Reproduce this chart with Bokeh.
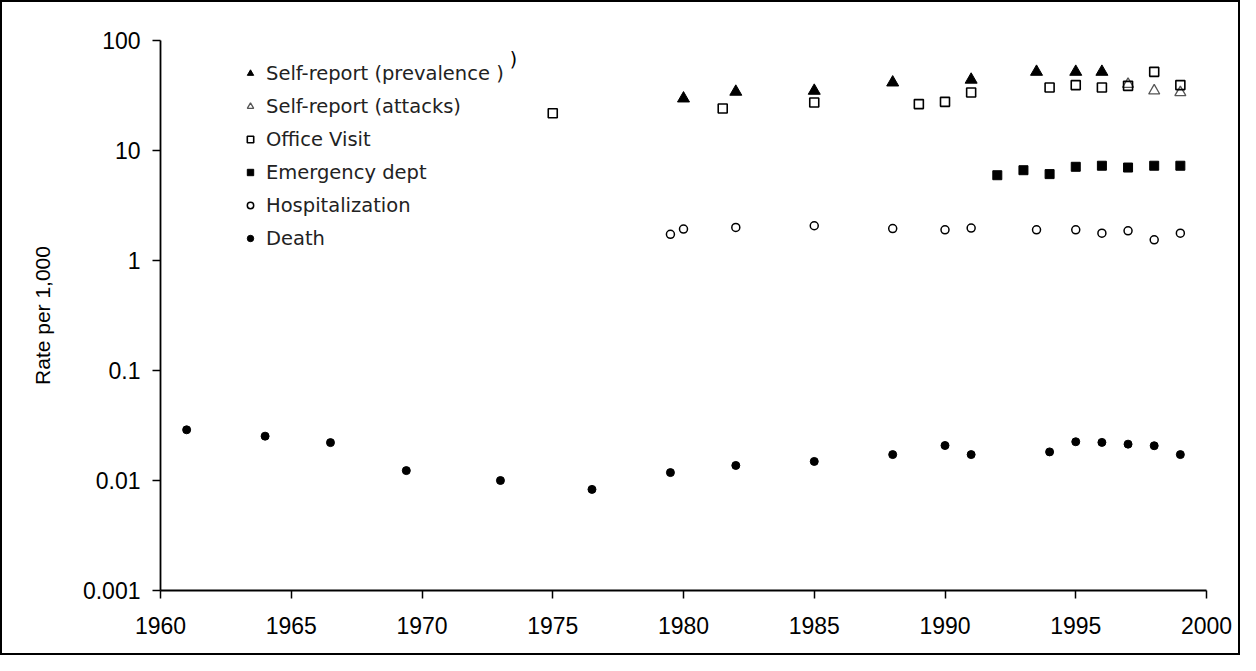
from bokeh.plotting import figure
from bokeh.models import (Legend, LegendItem, FixedTicker, Label, Range1d,
                          CustomJSTickFormatter)
from bokeh.embed import file_html
from bokeh.resources import INLINE

# ---------------- data ----------------
prev_years = [1980, 1982, 1985, 1988, 1991, 1993.5, 1995, 1996]
prev_vals = [29.7, 34.2, 34.9, 41.5, 44.0, 51.9, 51.9, 51.9]

attack_years = [1997, 1998, 1999]
attack_vals = [40.0, 34.9, 33.7]

office_years = [1975, 1981.5, 1985, 1989, 1990, 1991, 1994, 1995, 1996, 1997, 1998, 1999]
office_vals = [21.8, 24.1, 27.3, 26.4, 27.7, 33.7, 37.4, 39.3, 37.4, 38.7, 51.9, 39.3]

ed_years = [1992, 1993, 1994, 1995, 1996, 1997, 1998, 1999]
ed_vals = [5.96, 6.62, 6.1, 7.11, 7.27, 7.0, 7.27, 7.27]

hosp_years = [1979.5, 1980, 1982, 1985, 1988, 1990, 1991, 1993.5, 1995, 1996, 1997, 1998, 1999]
hosp_vals = [1.73, 1.93, 2.0, 2.07, 1.95, 1.90, 1.97, 1.90, 1.90, 1.77, 1.86, 1.54, 1.77]

death_years = [1961, 1964, 1966.5, 1969.4, 1973, 1976.5, 1979.5, 1982, 1985, 1988,
               1990, 1991, 1994, 1995, 1996, 1997, 1998, 1999]
death_vals = [0.0289, 0.0253, 0.0221, 0.0123, 0.0100, 0.0083, 0.0118, 0.0137, 0.0149,
              0.0172, 0.0208, 0.0172, 0.0182, 0.0225, 0.0222, 0.0214, 0.0207, 0.0172]

x_ticks = [1960, 1965, 1970, 1975, 1980, 1985, 1990, 1995, 2000]
y_ticks = [0.001, 0.01, 0.1, 1, 10, 100]
y_tick_labels = ["0.001", "0.01", "0.1", "1", "10", "100"]

legend_labels = ["Self-report (prevalence )", "Self-report (attacks)", "Office Visit",
                 "Emergency dept", "Hospitalization", "Death"]
y_title = "Rate per 1,000"

# ---------------- figure ----------------
p = figure(width=1240, height=655,
           x_range=Range1d(1960, 2000), y_range=Range1d(0.001, 100),
           y_axis_type="log", output_backend="svg", toolbar_location=None,
           min_border_left=158, min_border_right=36, min_border_top=38,
           min_border_bottom=67)
p.styles = {"border": "2px solid black"}
p.outline_line_color = None
p.xgrid.visible = False
p.ygrid.visible = False
p.background_fill_color = "white"
p.border_fill_color = "white"

tick_font = "Liberation Sans"

p.xaxis.ticker = FixedTicker(ticks=x_ticks, minor_ticks=[])
p.yaxis.ticker = FixedTicker(ticks=y_ticks, minor_ticks=[])
p.yaxis.formatter = CustomJSTickFormatter(
    args=dict(tvals=y_ticks, tlabels=y_tick_labels),
    code="""
    let best = 0, bd = 1e9;
    for (let i = 0; i < tvals.length; i++) {
        const d = Math.abs(Math.log10(tvals[i]) - Math.log10(tick));
        if (d < bd) { bd = d; best = i; }
    }
    return tlabels[best];
    """)

for ax in (p.xaxis[0], p.yaxis[0]):
    ax.axis_line_color = "black"
    ax.axis_line_width = 1.8
    ax.major_tick_line_color = "black"
    ax.major_tick_line_width = 1.5
    ax.major_tick_out = 8
    ax.major_tick_in = 0
    ax.minor_tick_line_color = None
    ax.major_label_text_font = tick_font
    ax.major_label_text_font_size = "23px"
    ax.major_label_text_color = "black"

p.xaxis.major_label_standoff = 18
p.yaxis.major_label_standoff = 12

p.yaxis.axis_label = y_title
p.yaxis.axis_label_text_font = tick_font
p.yaxis.axis_label_text_font_size = "21px"
p.yaxis.axis_label_text_font_style = "normal"
p.yaxis.axis_label_text_color = "black"
p.yaxis.axis_label_standoff = 26

# ---------------- series ----------------
r_prev = p.scatter(prev_years, prev_vals, marker="triangle", size=12,
                   fill_color="black", line_color="black")
r_att = p.scatter(attack_years, attack_vals, marker="triangle", size=11,
                  fill_color=None, line_color="#555555", line_width=1.3)
r_off = p.scatter(office_years, office_vals, marker="square", size=9,
                  fill_color=None, line_color="black", line_width=1.6)
r_ed = p.scatter(ed_years, ed_vals, marker="square", size=9,
                 fill_color="black", line_color="black")
r_hosp = p.scatter(hosp_years, hosp_vals, marker="circle", size=8,
                   fill_color=None, line_color="black", line_width=1.5)
r_death = p.scatter(death_years, death_vals, marker="circle", size=8,
                    fill_color="black", line_color="black")

renderers = [r_prev, r_att, r_off, r_ed, r_hosp, r_death]
items = [LegendItem(label=lab, renderers=[r]) for lab, r in zip(legend_labels, renderers)]
legend = Legend(items=items, location=(82, 340), orientation="vertical",
                glyph_width=16, glyph_height=24, label_height=24, spacing=9,
                padding=6, margin=0, label_standoff=8,
                border_line_color=None, background_fill_alpha=0,
                label_text_font="DejaVu Sans", label_text_font_size="19.5px",
                label_text_color="#222222")
p.add_layout(legend, "center")

# stray parenthesis visible in the reference legend
p.add_layout(Label(x=1973.5, y=68.0, text=")", text_font="DejaVu Sans",
                   text_font_size="19px", text_baseline="middle", text_align="center",
                   text_color="black"))

open("out.html", "w").write(file_html(p, INLINE))
